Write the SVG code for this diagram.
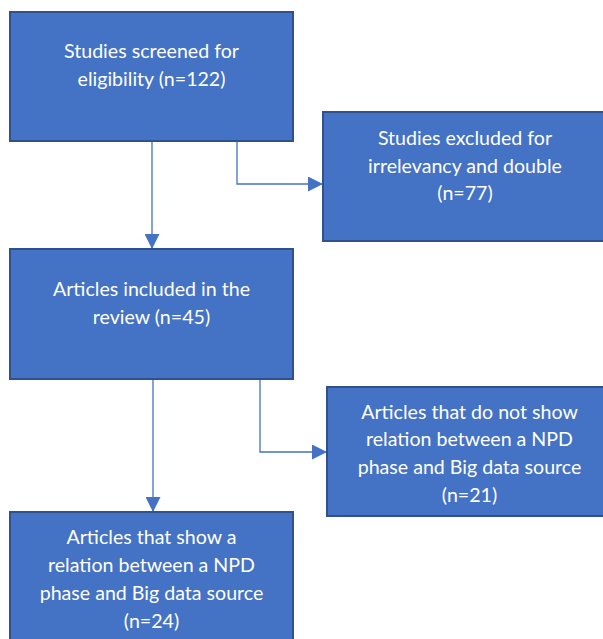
<svg xmlns="http://www.w3.org/2000/svg" width="603" height="639" viewBox="0 0 603 639">
<style>
.box{fill:#4472C4;stroke:#2F528F;stroke-width:2}
.t{font-family:Lato,"Liberation Sans",sans-serif;font-size:19.6px;fill:#FFFFFF;text-anchor:middle}
.c{fill:none;stroke:#4472C4;stroke-width:1.3}
</style>
<defs>
<marker id="ah" markerUnits="userSpaceOnUse" markerWidth="15" markerHeight="15" viewBox="0 0 15 15" refX="15" refY="7.5" orient="auto">
<path d="M0,0 L15,7.5 L0,15 Z" fill="#4472C4"/>
</marker>
</defs>
<rect width="603" height="639" fill="#FFFFFF"/>
<g id="connectors">
<line class="c" x1="152" y1="141" x2="152" y2="249" marker-end="url(#ah)"/>
<polyline class="c" points="237,141 237,184 323,184" marker-end="url(#ah)"/>
<line class="c" x1="153" y1="380" x2="153" y2="512" marker-end="url(#ah)"/>
<polyline class="c" points="260,379 260,452 327,452" marker-end="url(#ah)"/>
</g>
<g id="n1">
<rect class="box" x="10" y="12" width="283" height="129"/>
<text class="t" x="151.5" y="58">Studies screened for</text>
<text class="t" x="151.5" y="86">eligibility (n=122)</text>
</g>
<g id="n2">
<rect class="box" x="323" y="112" width="290" height="129"/>
<text class="t" x="465" y="145">Studies excluded for</text>
<text class="t" x="465" y="173">irrelevancy and double</text>
<text class="t" x="465" y="200">(n=77)</text>
</g>
<g id="n3">
<rect class="box" x="10" y="249" width="283" height="130"/>
<text class="t" x="151.5" y="296">Articles included in the</text>
<text class="t" x="151.5" y="324">review (n=45)</text>
</g>
<g id="n4">
<rect class="box" x="327" y="387" width="290" height="129"/>
<text class="t" x="469.5" y="419">Articles that do not show</text>
<text class="t" x="469.5" y="446">relation between a NPD</text>
<text class="t" x="469.5" y="474">phase and Big data source</text>
<text class="t" x="469.5" y="502">(n=21)</text>
</g>
<g id="n5">
<rect class="box" x="10" y="512" width="283" height="140"/>
<text class="t" x="151.5" y="544">Articles that show a</text>
<text class="t" x="151.5" y="572">relation between a NPD</text>
<text class="t" x="151.5" y="600">phase and Big data source</text>
<text class="t" x="151.5" y="628">(n=24)</text>
</g>
</svg>
